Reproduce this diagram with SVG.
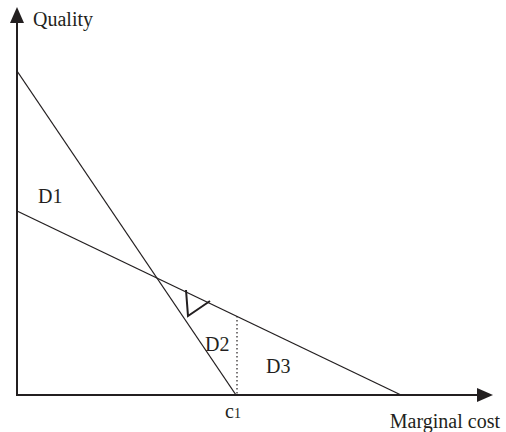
<svg xmlns="http://www.w3.org/2000/svg" width="506" height="432" viewBox="0 0 506 432">
<style>
.ax{stroke:#231f20;stroke-width:2;fill:none}
.ln{stroke:#231f20;stroke-width:1.3;fill:none}
.dot{stroke:#231f20;stroke-width:1.2;stroke-dasharray:1.5 2.5;fill:none}
.vm{stroke:#231f20;stroke-width:2;fill:none}
.ah{fill:#231f20}
text{font-family:"Liberation Serif","Times New Roman",serif;font-size:20px;fill:#231f20}
</style>
<rect width="506" height="432" fill="#fff"/>
<g id="axes">
<line class="ax" x1="17" y1="396" x2="17" y2="20"/>
<polygon class="ah" points="10,23 17,7 24,23"/>
<line class="ax" x1="16" y1="395" x2="480" y2="395"/>
<polygon class="ah" points="477,388 493,395 477,402"/>
</g>
<g id="connectors">
<line class="ln" x1="17" y1="71" x2="236" y2="395"/>
<line class="ln" x1="17" y1="211" x2="401" y2="395"/>
<line class="dot" x1="237" y1="316" x2="237" y2="394"/>
<polyline class="vm" points="186,290 188,316 210,301"/>
</g>
<g id="labels">
<text x="33" y="26">Quality</text>
<text x="38" y="203">D1</text>
<text x="205" y="351">D2</text>
<text x="266" y="373">D3</text>
<text x="225" y="418">c<tspan font-size="14">1</tspan></text>
<text x="500" y="428" text-anchor="end">Marginal cost</text>
</g>
</svg>
